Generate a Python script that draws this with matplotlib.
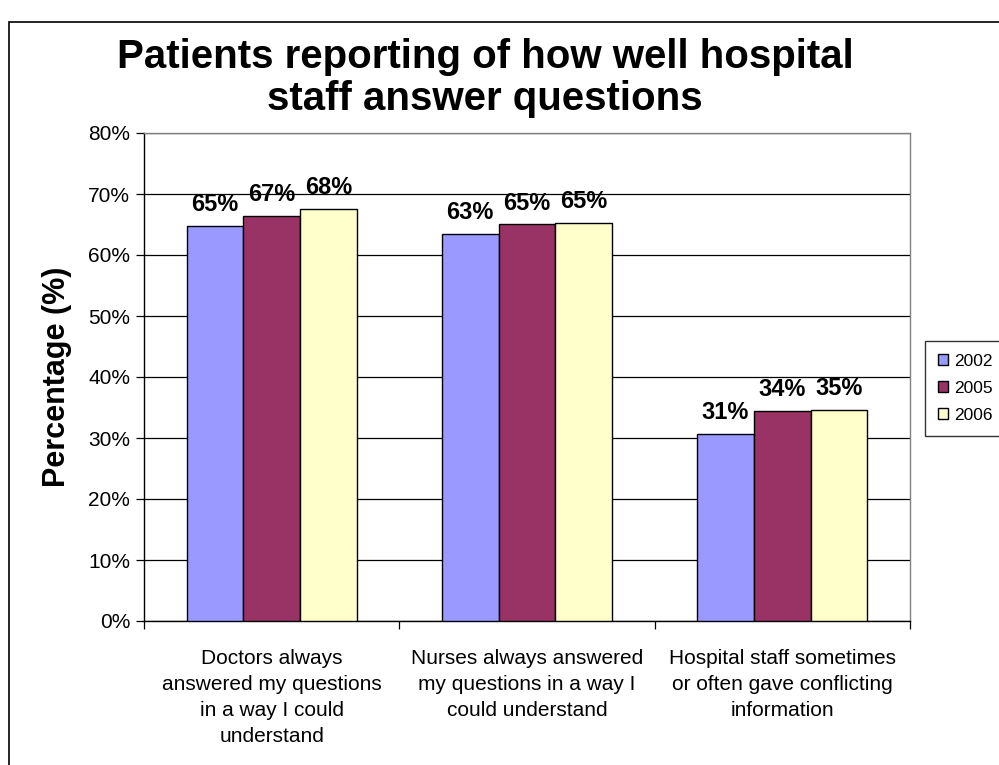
import matplotlib
matplotlib.use("Agg")
import matplotlib.pyplot as plt
import matplotlib.patches as mpatches
import numpy as np

plt.rcParams['font.family'] = ['Liberation Sans', 'DejaVu Sans']

categories = ["Doctors always\nanswered my questions\nin a way I could\nunderstand",
              "Nurses always answered\nmy questions in a way I\ncould understand",
              "Hospital staff sometimes\nor often gave conflicting\ninformation"]
series_names = ["2002", "2005", "2006"]
values_2002 = [64.8, 63.5, 30.7]
values_2005 = [66.4, 65.0, 34.4]
values_2006 = [67.6, 65.3, 34.6]
labels_2002 = ["65%", "63%", "31%"]
labels_2005 = ["67%", "65%", "34%"]
labels_2006 = ["68%", "65%", "35%"]
colors = ["#9999FF", "#993366", "#FFFFCC"]
yticks = [0, 10, 20, 30, 40, 50, 60, 70, 80]
ytick_labels = ["0%", "10%", "20%", "30%", "40%", "50%", "60%", "70%", "80%"]

fig = plt.figure(figsize=(9.99, 7.65), dpi=100)
# outer chart border
fig.patches.append(mpatches.Rectangle((9/999, -0.05), 1.2, 1 - 22/765 + 0.05,
                                      transform=fig.transFigure, fill=False,
                                      edgecolor="black", linewidth=1.2))

ax = fig.add_axes([144/999, 1 - 621/765, (910 - 144)/999, (621 - 133)/765])

x = np.arange(len(categories))
bw = 1/4.5
series = [values_2002, values_2005, values_2006]
labels = [labels_2002, labels_2005, labels_2006]
for i, (vals, labs) in enumerate(zip(series, labels)):
    pos = x + (i - 1) * bw
    bars = ax.bar(pos, vals, width=bw, color=colors[i], edgecolor="black",
                  linewidth=1.0, label=series_names[i], zorder=3)
    for b, lab in zip(bars, labs):
        ax.annotate(lab, (b.get_x() + b.get_width()/2, b.get_height()),
                    xytext=(0, 7), textcoords="offset points", ha="center",
                    va="bottom", fontsize=17, fontweight="bold", zorder=4)

ax.set_xlim(-0.5, 2.5)
ax.set_ylim(0, 80)
ax.set_yticks(yticks)
ax.set_yticklabels(ytick_labels, fontsize=15)
ax.yaxis.grid(True, color="black", linewidth=0.9, zorder=0)
ax.set_axisbelow(True)
ax.set_xticks([-0.5, 0.5, 1.5, 2.5])
ax.set_xticklabels([])
ax.set_xticks(x, minor=True)
ax.set_xticklabels(categories, minor=True, fontsize=15, linespacing=1.47)
ax.tick_params(axis="x", which="minor", length=0, pad=20)
ax.tick_params(axis="x", which="major", length=6, width=0.9, direction="out")
ax.tick_params(axis="y", length=6, width=0.9, direction="out", pad=4)

for s in ["top", "right"]:
    ax.spines[s].set_color("#808080")
    ax.spines[s].set_linewidth(1.0)
for s in ["left", "bottom"]:
    ax.spines[s].set_color("black")
    ax.spines[s].set_linewidth(1.0)

ax.set_ylabel("Percentage (%)", fontsize=22, fontweight="bold")
ax.yaxis.set_label_coords(-72/766, 0.5)

fig.text(485/999, 1 - 78/765, "Patients reporting of how well hospital\nstaff answer questions",
         ha="center", va="center", fontsize=29, fontweight="bold", linespacing=1.15)

leg = fig.legend(loc="upper left", bbox_to_anchor=(925/999, 1 - 341/765),
                 frameon=True, fancybox=False, edgecolor="black", fontsize=12.5,
                 handlelength=0.6, handleheight=0.6, handletextpad=0.35,
                 borderpad=0.75, labelspacing=0.68, borderaxespad=0)
leg.get_frame().set_linewidth(1.0)

fig.savefig("out.png", dpi=100)
